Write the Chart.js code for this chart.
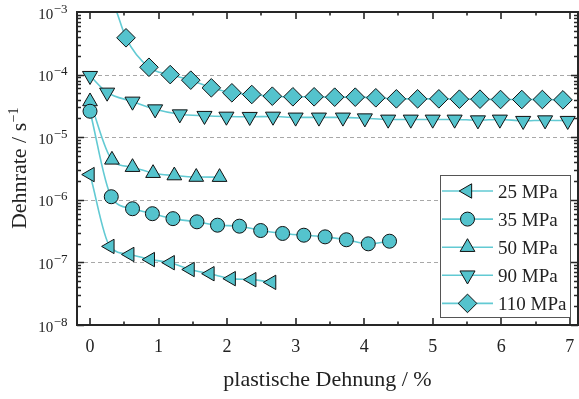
<!DOCTYPE html>
<html>
<head>
<meta charset="utf-8">
<style>
  html, body { margin: 0; padding: 0; background: #ffffff; }
  #wrap { width: 579px; height: 399px; position: relative; }
</style>
<script src="https://cdn.jsdelivr.net/npm/chart.js@4.4.1/dist/chart.umd.min.js"></script>
</head>
<body>
<div id="wrap"><canvas id="c" width="579" height="399"></canvas></div>
<script>
// Creep tests: strain rate vs. plastic strain for five stress levels
const seriesLabels = ['25 MPa', '35 MPa', '50 MPa', '90 MPa', '110 MPa'];

const strain25 = [0, 0.29, 0.58, 0.88, 1.17, 1.46, 1.75, 2.06, 2.36, 2.65];
const rate25   = [2.53e-6, 1.80e-7, 1.34e-7, 1.11e-7, 9.9e-8, 7.7e-8, 6.6e-8, 5.5e-8, 5.3e-8, 4.8e-8];

const strain35 = [0, 0.31, 0.62, 0.91, 1.21, 1.56, 1.86, 2.18, 2.49, 2.81, 3.12, 3.43, 3.74, 4.06, 4.37];
const rate35   = [2.6e-5, 1.12e-6, 7.2e-7, 6.0e-7, 5.0e-7, 4.45e-7, 3.93e-7, 3.79e-7, 3.23e-7, 2.9e-7, 2.72e-7, 2.56e-7, 2.30e-7, 1.98e-7, 2.18e-7];

const strain50 = [0, 0.32, 0.62, 0.92, 1.23, 1.55, 1.89];
const rate50   = [3.72e-5, 4.35e-6, 3.32e-6, 2.66e-6, 2.44e-6, 2.31e-6, 2.30e-6];

const strain90 = [0, 0.25, 0.62, 0.95, 1.31, 1.67, 1.99, 2.33, 2.67, 3.0, 3.34, 3.69, 4.01, 4.35, 4.68, 5.0, 5.32, 5.66, 5.98, 6.32, 6.64, 6.97];
const rate90   = [9.57e-5, 5.18e-5, 3.72e-5, 2.80e-5, 2.33e-5, 2.20e-5, 2.14e-5, 2.12e-5, 2.14e-5, 2.07e-5, 2.07e-5, 2.07e-5, 2.01e-5, 1.92e-5, 1.92e-5, 1.92e-5, 1.92e-5, 1.87e-5, 1.92e-5, 1.83e-5, 1.87e-5, 1.83e-5];

const strain110 = [0.525, 0.86, 1.17, 1.47, 1.77, 2.07, 2.36, 2.66, 2.96, 3.27, 3.57, 3.87, 4.17, 4.47, 4.78, 5.09, 5.39, 5.69, 5.99, 6.30, 6.60, 6.90];
const rate110   = [3.87e-4, 1.31e-4, 1.0e-4, 8.15e-5, 6.15e-5, 5.12e-5, 4.81e-5, 4.52e-5, 4.42e-5, 4.42e-5, 4.36e-5, 4.36e-5, 4.26e-5, 4.1e-5, 4.1e-5, 4.1e-5, 4.05e-5, 4.05e-5, 4.0e-5, 4.0e-5, 4.0e-5, 3.95e-5];
// the 110 MPa fit curve enters the plot from above the top edge
const fitLead110Strain = [0.39];
const fitLead110Rate   = [1.0e-3];

const xTickValues  = [0, 1, 2, 3, 4, 5, 6, 7];
const xTickLabels  = ['0', '1', '2', '3', '4', '5', '6', '7'];
const yDecades     = [-8, -7, -6, -5, -4, -3];
const gridDecades  = [-7, -6, -5, -4];

const FILL = '#54c3cd';
const LINE = '#62cad3';
const SERIF = '"Liberation Serif", "DejaVu Serif", serif';

const markerStyles = [
  { pointStyle: 'triangle', rotation: -90, radius: 8.3 },
  { pointStyle: 'circle',   rotation: 0,   radius: 7 },
  { pointStyle: 'triangle', rotation: 0,   radius: 8.5 },
  { pointStyle: 'triangle', rotation: 180, radius: 8.7 },
  { pointStyle: 'rectRot',  rotation: 0,   radius: 9.3 }
];

const toPoints = (xs, ys) => xs.map((v, i) => ({ x: v, y: ys[i] }));
const seriesPoints = [
  toPoints(strain25, rate25),
  toPoints(strain35, rate35),
  toPoints(strain50, rate50),
  toPoints(strain90, rate90),
  toPoints(strain110, rate110)
];
const curvePoints = seriesPoints.map(p => p.slice());
curvePoints[4] = toPoints(fitLead110Strain, fitLead110Rate).concat(curvePoints[4]);

const datasets = [];
curvePoints.forEach((pts, i) => {
  datasets.push({
    label: seriesLabels[i] + ' fit',
    data: pts,
    showLine: true,
    borderColor: LINE,
    borderWidth: 1.6,
    pointRadius: 0,
    cubicInterpolationMode: 'monotone',
    fill: false,
    order: 2
  });
});
seriesPoints.forEach((pts, i) => {
  const m = markerStyles[i];
  datasets.push({
    label: seriesLabels[i],
    data: pts,
    showLine: false,
    pointStyle: m.pointStyle,
    rotation: m.rotation,
    pointRadius: m.radius,
    pointHoverRadius: m.radius,
    pointBackgroundColor: FILL,
    pointBorderColor: '#111111',
    pointBorderWidth: 1,
    order: 1
  });
});

function drawMarker(ctx, m, x, y) {
  ctx.save();
  ctx.fillStyle = FILL;
  ctx.strokeStyle = '#111111';
  ctx.lineWidth = 1;
  Chart.helpers.drawPoint(ctx, { pointStyle: m.pointStyle, rotation: m.rotation, radius: m.radius, borderWidth: 1 }, x, y);
  ctx.restore();
}

const framePlugin = {
  id: 'frame',
  beforeDatasetsDraw(chart) {
    const { ctx, chartArea: a, scales: { y } } = chart;
    ctx.save();
    ctx.strokeStyle = '#a8a8a8';
    ctx.lineWidth = 1;
    ctx.setLineDash([4, 3]);
    gridDecades.forEach(d => {
      const py = Math.round(y.getPixelForValue(Math.pow(10, d))) + 0.5;
      ctx.beginPath();
      ctx.moveTo(a.left, py);
      ctx.lineTo(a.right, py);
      ctx.stroke();
    });
    ctx.restore();
  },
  afterDatasetsDraw(chart) {
    const { ctx, chartArea: a, scales: { x, y } } = chart;
    ctx.save();
    ctx.strokeStyle = '#262626';
    ctx.lineWidth = 2;
    ctx.setLineDash([]);
    ctx.strokeRect(a.left, a.top, a.right - a.left, a.bottom - a.top);

    // x ticks (inward, bottom and top)
    ctx.lineWidth = 1.6;
    ctx.beginPath();
    xTickValues.forEach(v => {
      const px = Math.round(x.getPixelForValue(v));
      ctx.moveTo(px, a.bottom); ctx.lineTo(px, a.bottom - 7);
      ctx.moveTo(px, a.top);    ctx.lineTo(px, a.top + 7);
      const hx = Math.round(x.getPixelForValue(v + 0.5));
      if (v + 0.5 < x.max) {
        ctx.moveTo(hx, a.bottom); ctx.lineTo(hx, a.bottom - 3.5);
        ctx.moveTo(hx, a.top);    ctx.lineTo(hx, a.top + 3.5);
      }
    });
    // y ticks (log, inward, left and right)
    for (let d = -8; d < -3; d++) {
      for (let k = 1; k <= 9; k++) {
        const py = Math.round(y.getPixelForValue(k * Math.pow(10, d))) + 0.5;
        const len = k === 1 ? 7 : 4;
        ctx.moveTo(a.left, py);  ctx.lineTo(a.left + len, py);
        ctx.moveTo(a.right, py); ctx.lineTo(a.right - len, py);
      }
    }
    ctx.stroke();

    // x tick labels
    ctx.fillStyle = '#222222';
    ctx.font = '18px ' + SERIF;
    ctx.textAlign = 'center';
    ctx.textBaseline = 'alphabetic';
    xTickValues.forEach((v, i) => {
      ctx.fillText(xTickLabels[i], x.getPixelForValue(v), 352);
    });

    // y tick labels: 10 with superscript exponent
    ctx.textAlign = 'left';
    yDecades.forEach(d => {
      const py = y.getPixelForValue(Math.pow(10, d));
      ctx.font = '15px ' + SERIF;
      const base = '10';
      const wb = ctx.measureText(base).width;
      ctx.font = '13px ' + SERIF;
      const sup = '\u2212' + Math.abs(d);
      const ws = ctx.measureText(sup).width;
      const x0 = 67 - wb - ws;
      ctx.font = '15px ' + SERIF;
      ctx.fillText(base, x0, py + 6.5);
      ctx.font = '13px ' + SERIF;
      ctx.fillText(sup, x0 + wb + 0.5, py + 0.5);
    });

    // axis titles
    ctx.font = '22px ' + SERIF;
    ctx.textAlign = 'center';
    ctx.fillText('plastische Dehnung / %', (a.left + a.right) / 2, 386);

    ctx.save();
    ctx.translate(26, (a.top + a.bottom) / 2);
    ctx.rotate(-Math.PI / 2);
    ctx.textAlign = 'left';
    ctx.font = '22px ' + SERIF;
    const mainT = 'Dehnrate / s';
    const wm = ctx.measureText(mainT).width;
    ctx.font = '14px ' + SERIF;
    const supT = '\u22121';
    const wsT = ctx.measureText(supT).width;
    const sx = -(wm + wsT) / 2;
    ctx.font = '22px ' + SERIF;
    ctx.fillText(mainT, sx, 0);
    ctx.font = '14px ' + SERIF;
    ctx.fillText(supT, sx + wm + 0.5, -8);
    ctx.restore();

    // legend
    const lx = 440.5, ly = 175.5, lw = 130, lh = 142;
    ctx.fillStyle = '#ffffff';
    ctx.fillRect(lx, ly, lw, lh);
    ctx.strokeStyle = '#555555';
    ctx.lineWidth = 1;
    ctx.strokeRect(lx, ly, lw, lh);
    seriesLabels.forEach((lab, i) => {
      const cy = 191 + i * 28.1;
      ctx.strokeStyle = LINE;
      ctx.lineWidth = 1.6;
      ctx.beginPath();
      ctx.moveTo(442, cy); ctx.lineTo(493, cy);
      ctx.stroke();
      drawMarker(ctx, markerStyles[i], 467.5, cy);
      ctx.fillStyle = '#222222';
      ctx.font = '19px ' + SERIF;
      ctx.textAlign = 'left';
      ctx.fillText(lab, 498, cy + 6.5);
    });
    ctx.restore();
  }
};

new Chart(document.getElementById('c'), {
  type: 'line',
  data: { datasets },
  options: {
    responsive: false,
    animation: false,
    devicePixelRatio: 1,
    layout: { autoPadding: false, padding: { left: 0, right: 1, top: 12, bottom: 0 } },
    plugins: { legend: { display: false }, tooltip: { enabled: false } },
    scales: {
      x: {
        type: 'linear', min: -0.19, max: 7.12,
        ticks: { display: false }, grid: { display: false }, border: { display: false },
        afterFit(s) { s.height = 74; }
      },
      y: {
        type: 'logarithmic', min: 1e-8, max: 1e-3,
        ticks: { display: false }, grid: { display: false }, border: { display: false },
        afterFit(s) { s.width = 77; }
      }
    }
  },
  plugins: [framePlugin]
});
</script>
</body>
</html>
